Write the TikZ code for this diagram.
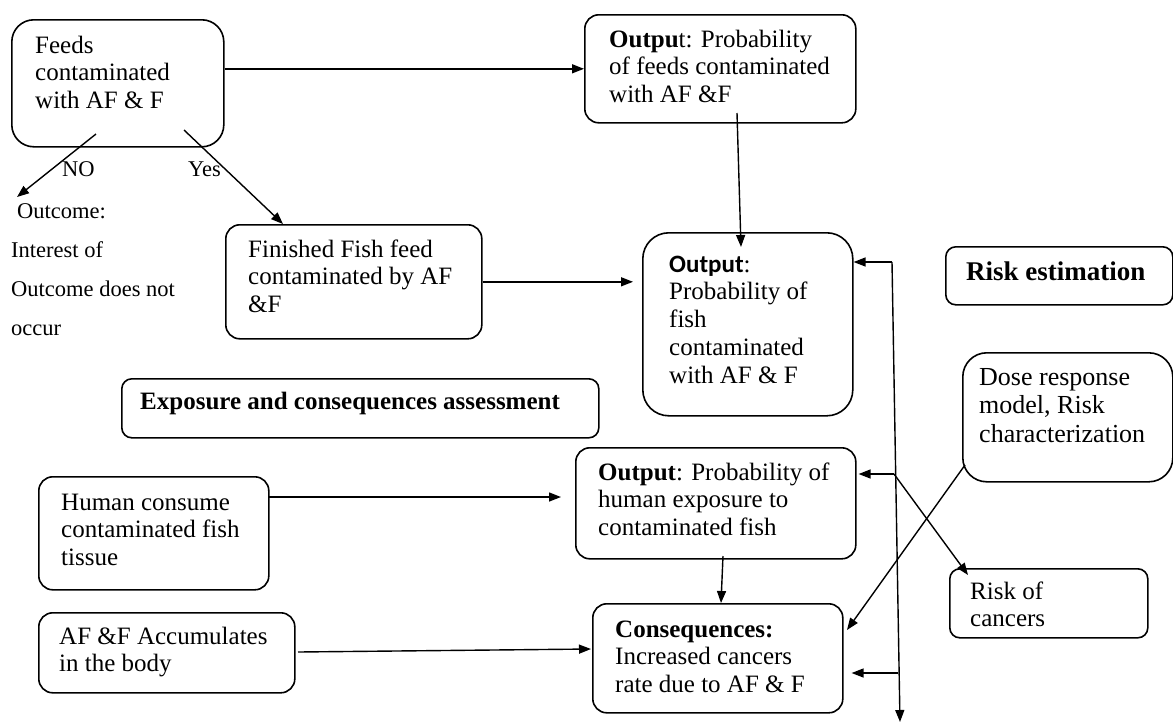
\documentclass[tikz,border=0pt]{standalone}
\usepackage{fontspec}
\setmainfont{Liberation Serif}
\newfontfamily\carlito{Carlito}
\usetikzlibrary{arrows.meta}
\newcommand{\ml}[1]{\begin{tabular}[t]{@{}l@{}}#1\end{tabular}}
\begin{document}
\begin{tikzpicture}[x=1pt,y=-1pt,
  box/.style={draw, line width=1.6pt, rounded corners=14pt, inner sep=0pt, anchor=north west},
  txt/.style={anchor=base west, inner sep=0pt, font=\fontsize{25}{27.8}\selectfont},
  lbl/.style={anchor=base west, inner sep=0pt, font=\fontsize{22.5}{39.3}\selectfont},
  arr/.style={line width=1.4pt, -{Triangle[length=12pt,width=9pt]}}]
\useasboundingbox (0,0) rectangle (1173,724);
% boxes
\node[box, rounded corners=22pt, minimum width=212pt, minimum height=127pt] (A) at (11,19) {};
\node[box, minimum width=271pt, minimum height=108pt] (B) at (584,14) {};
\node[box, minimum width=256pt, minimum height=114pt] (C) at (225,224) {};
\node[box, rounded corners=26pt, minimum width=210pt, minimum height=183pt] (D) at (642,232) {};
\node[box, rounded corners=10pt, minimum width=227pt, minimum height=58pt] (R) at (945,246) {};
\node[box, rounded corners=24pt, minimum width=210pt, minimum height=129pt] (DR) at (962,352) {};
\node[box, rounded corners=10pt, minimum width=477pt, minimum height=59pt] (X) at (121,378) {};
\node[box, minimum width=230pt, minimum height=113pt] (H) at (38,476) {};
\node[box, minimum width=280pt, minimum height=111pt] (E) at (575,447) {};
\node[box, minimum width=256pt, minimum height=80pt] (AF) at (38,612) {};
\node[box, rounded corners=10pt, minimum width=198pt, minimum height=69pt] (RC) at (949,568) {};
\node[box, minimum width=250pt, minimum height=109pt] (F) at (592,603) {};
% texts
\node[txt] (At) at (35,53) {\ml{Feeds\\contaminated\\with AF \& F}};
\node[txt] (Bt) at (609,47) {\ml{\textbf{Outpu}t: Probability\\of feeds contaminated\\with AF \&F}};
\node[txt] (Ct) at (248,257) {\ml{Finished Fish feed\\contaminated by AF\\\&F}};
\node[txt] (Dt) at (669,272) {\ml{{\carlito\bfseries Output}:\\Probability of\\fish\\contaminated\\with AF \& F}};
\node[txt, font=\fontsize{27}{30}\selectfont] (Rt) at (966,280) {\textbf{Risk estimation}};
\node[txt, font=\fontsize{26}{28.5}\selectfont] (DRt) at (979,385) {\ml{Dose response\\model, Risk\\characterization}};
\node[txt] (Xt) at (140,409) {\textbf{Exposure and consequences assessment}};
\node[txt] (Ht) at (61,510) {\ml{Human consume\\contaminated fish\\tissue}};
\node[txt] (Et) at (598,480) {\ml{\textbf{Output}: Probability of\\human exposure to\\contaminated fish}};
\node[txt] (AFt) at (59,644) {\ml{AF \&F Accumulates\\in the body}};
\node[txt] (RCt) at (970,599) {\ml{Risk of\\cancers}};
\node[txt] (Ft) at (615,637) {\ml{\textbf{Consequences:}\\Increased cancers\\rate due to AF \& F}};
\node[lbl] (Ot) at (11,218) {\ml{\hspace{6pt}Outcome:\\Interest of\\Outcome does not\\occur}};
\node[lbl] (no) at (62,176) {NO};
\node[lbl] (yes) at (188,176) {Yes};
% coordinates
\coordinate (noS) at (96,134);
\coordinate (noE) at (17,197);
\coordinate (yesS) at (184,130);
\coordinate (yesE) at (283,224);
\coordinate (bdS) at (737,113);
\coordinate (bdE) at (741,247);
\coordinate (heS) at (268,497);
\coordinate (heE) at (561,497);
\coordinate (efS) at (723,556);
\coordinate (efE) at (721,603);
\coordinate (afS) at (298,652);
\coordinate (afE) at (591,649);
\coordinate (drS) at (965,465);
\coordinate (drE) at (847,630);
\coordinate (vT) at (892,262);
\coordinate (vE) at (894,474);
\coordinate (vF) at (898,673);
\coordinate (vB) at (900,722);
\coordinate (rcE) at (968,575);
% connectors
\draw[arr] (A.east |- B.west) -- (B.west);
\draw[arr] (noS) -- (noE);
\draw[arr] (yesS) -- (yesE);
\draw[arr] (C.east) -- ([xshift=-9pt]C.east -| D.west);
\draw[arr] (bdS) -- (bdE);
\draw[arr] (heS) -- (heE);
\draw[arr] (efS) -- (efE);
\draw[arr] (afS) -- (afE);
\draw[arr] (drS) -- (drE);
\draw[arr] (vT) -- (vB);
\draw[arr] (vT) -- (vT -| D.east);
\draw[arr] (vE) -- ([xshift=2pt]vE -| E.east);
\draw[arr] (vF) -- ([xshift=8pt]vF -| F.east);
\draw[arr] (vE) -- (rcE);
\end{tikzpicture}
\end{document}
